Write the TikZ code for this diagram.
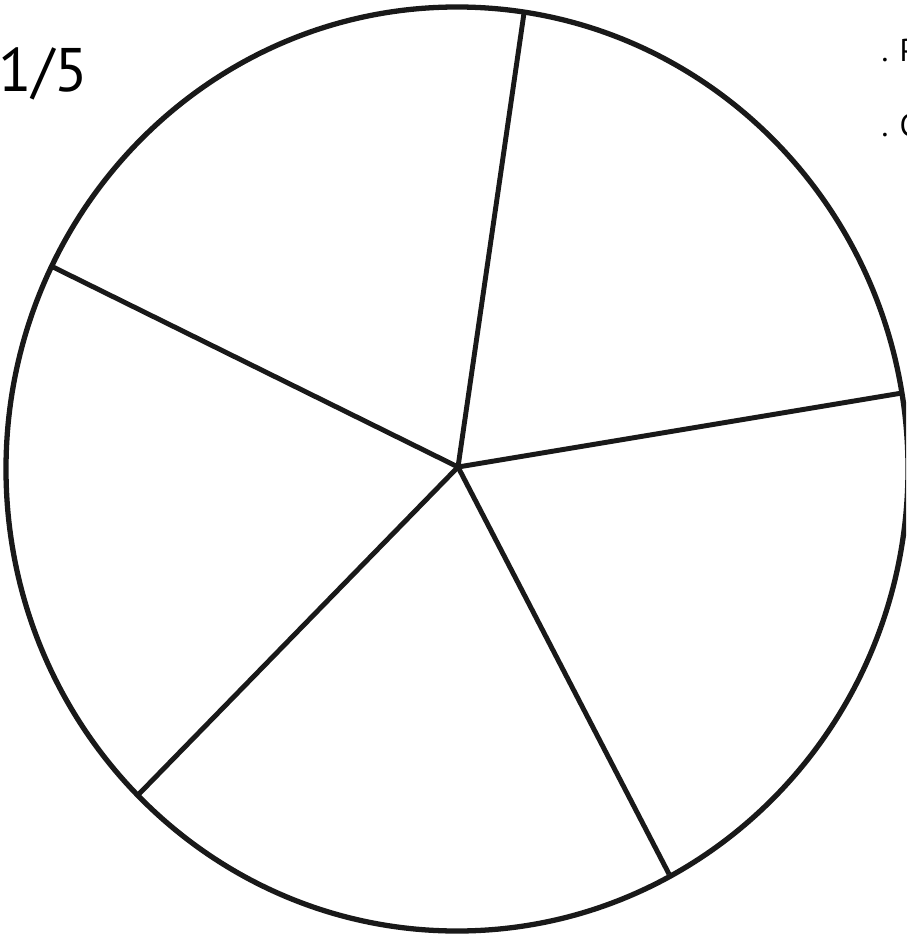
\documentclass[tikz,border=0pt]{standalone}
\usepackage{fontspec}
\setmainfont{PT Sans}
\usepackage{tikz}
\usetikzlibrary{positioning}

\begin{document}
\begin{tikzpicture}[x=0.01cm, y=-0.01cm,
    rim/.style={draw=black!90, line width=1.5pt},
    spoke/.style={draw=black!90, line width=1.4pt},
    frac/.style={font=\fontsize{17.5}{20}\selectfont, inner sep=0, anchor=base west},
    side/.style={font=\fontsize{9}{11}\selectfont, inner sep=0, anchor=base west}]
\clip (0,0) rectangle (906,937);
\fill[white] (0,0) rectangle (906,937);
% the circle cut into fifths
\coordinate (c) at (458,467);
\draw[rim] (457,469) ellipse [x radius=451, y radius=462];
\coordinate (p1) at (524,13);
\coordinate (p2) at (902,393);
\coordinate (p3) at (669,874);
\coordinate (p4) at (138,795);
\coordinate (p5) at (53,267);
\foreach \i in {1,...,5}
  \draw[spoke] (c) -- (p\i);
% labels
\node[frac] (lbl) at (-2,92) {1/5};
\node[side] (t1) at (881,62) {. P};
\node[side] (t2) at (881,137) {. C};
\end{tikzpicture}
\end{document}
